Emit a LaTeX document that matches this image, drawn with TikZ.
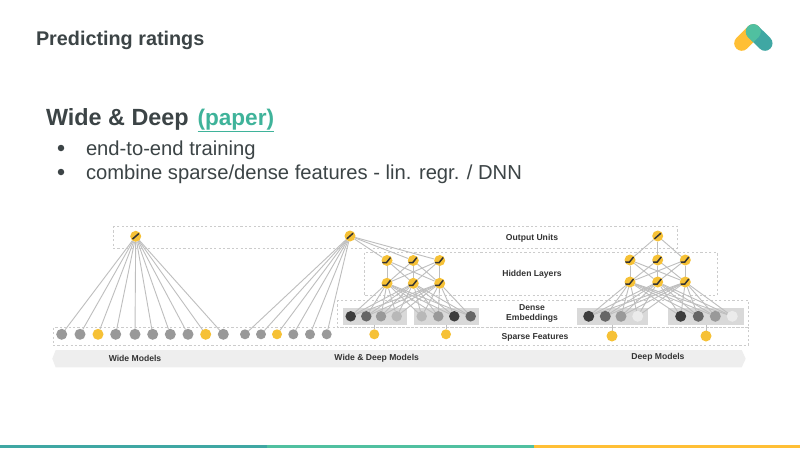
\documentclass[tikz,border=0pt]{standalone}
\usepackage{fontspec}
\setmainfont{Liberation Sans}
\usetikzlibrary{backgrounds,positioning}
\definecolor{SlideInk}{HTML}{3C4446}
\definecolor{SlideTeal}{HTML}{3FA7A3}
\definecolor{SlideGreen}{HTML}{50C0A0}
\definecolor{SlideLink}{HTML}{3FB39A}
\definecolor{SlideYellow}{HTML}{FFBF35}
\definecolor{UnitYellow}{HTML}{F6C136}
\definecolor{LabelInk}{HTML}{333333}
\definecolor{EdgeGray}{HTML}{BEBEBE}
\definecolor{BoxGray}{HTML}{CCCCCC}
\definecolor{BandGray}{HTML}{EEEEEE}
\definecolor{EmbedGray}{HTML}{D9D9D9}
\tikzset{
  every node/.style={inner sep=0pt, outer sep=0pt, text=SlideInk},
  headline/.style={anchor=base west, font=\bfseries\fontsize{19.8}{24}\selectfont},
  subhead/.style={anchor=base west, font=\bfseries\fontsize{23.4}{28}\selectfont},
  linkhead/.style={anchor=base west, font=\bfseries\fontsize{22.6}{28}\selectfont},
  bullettext/.style={anchor=base west, font=\fontsize{20.2}{24}\selectfont},
  bulletdot/.style={circle, fill=SlideInk, minimum size=6.5pt},
  tag/.style={font=\bfseries\fontsize{8.6}{10}\selectfont, text=LabelInk, align=center},
  guide/.style={draw=BoxGray, line width=1pt, dash pattern=on 2.2pt off 2.2pt},
  band/.style={fill=BandGray},
  embedbox/.style={fill=EmbedGray},
  edge/.style={draw=EdgeGray, line width=0.9pt},
  sparse/.style={circle, fill=#1, minimum size=11pt},
  dense/.style={circle, fill=#1, minimum size=11pt},
  outunit/.style={circle, fill=UnitYellow, minimum size=11pt, path picture={
    \draw[LabelInk, line width=1.5pt, shift={(path picture bounding box.center)}]
      (-3.2,2.8) -- (3.2,-2.8);}},
  hidunit/.style={circle, fill=UnitYellow, minimum size=11pt, path picture={
    \draw[LabelInk, line width=1.5pt, shift={(path picture bounding box.center)}]
      (-5,2) -- (-0.5,2) -- (3.5,-3);}},
}
\begin{document}
\begin{tikzpicture}[x=1pt,y=-1pt]
  \useasboundingbox (0,0) rectangle (800,448);
  % Footer stripe
  \fill[SlideTeal] (0,445) rectangle (267,448);
  \fill[SlideGreen] (267,445) rectangle (534,448);
  \fill[SlideYellow] (534,445) rectangle (800,448);
  % Logo
  \draw[SlideYellow, line width=15pt, line cap=round] (741.7,43.3) -- (753.3,31.7);
  \draw[SlideTeal, line width=15pt, line cap=round] (753.3,31.7) -- (765,43.3);
  \fill[SlideGreen] (753.3,31.7) circle (7.5pt);
  \fill[SlideGreen] (748,37) -- (753.3,42.3) -- (758.6,37) -- (753.3,31.7) -- cycle;
  % Slide text
  \node[headline] (title) at (36,45) {Predicting ratings};
  \node[subhead] (head) at (46,125) {Wide \& Deep};
  \node[linkhead, text=SlideLink] (paper) at (197.5,125) {\underline{(paper)}};
  \node[bulletdot] (dotA) at (61,148) {};
  \node[bulletdot] (dotB) at (61,172) {};
  \node[bullettext] (lineA) at (86,155) {end-to-end training};
  \node[bullettext] (lineB) at (86,179) {combine sparse/dense features - lin. regr. / DNN};
  % Output units
  \node[outunit] (wo) at (135.7,236.3) {};
  \node[outunit] (mo) at (350,236) {};
  \node[outunit] (do) at (657.7,236) {};
  % Hidden layers
  \foreach \n/\x in {1/387, 2/413.3, 3/439.7} {
    \node[hidunit] (mu\n) at (\x,260.5) {};
    \node[hidunit] (ml\n) at (\x,283.3) {};
  }
  \foreach \n/\x in {1/630, 2/657.7, 3/685.3} {
    \node[hidunit] (du\n) at (\x,260) {};
    \node[hidunit] (dl\n) at (\x,282) {};
  }
  % Dense embeddings
  \foreach \n/\x/\c in {1/350.7/76, 2/366.3/60, 3/381/40, 4/396.7/28, 5/421.7/28, 6/438.3/40, 7/454.3/76, 8/470.7/60}
    \node[dense=black!\c, minimum size=10.5pt] (me\n) at (\x,316.3) {};
  \foreach \n/\x/\c in {1/588.7/76, 2/605.3/60, 3/621/40, 4/637.7/8, 5/680.7/76, 6/698.3/60, 7/715.3/40, 8/732.3/8}
    \node[dense=black!\c] (de\n) at (\x,316.3) {};
  % Sparse features
  \foreach \n/\x/\c in {1/61.7/black!40, 2/80/black!40, 3/98/UnitYellow, 4/115.7/black!40, 5/135/black!40, 6/152.7/black!40, 7/170.3/black!40, 8/188/black!40, 9/205.7/UnitYellow, 10/223.3/black!40}
    \node[sparse=\c] (ws\n) at (\x,334.3) {};
  \foreach \n/\x/\c in {1/245/black!40, 2/261/black!40, 3/277/UnitYellow, 4/293.3/black!40, 5/310/black!40, 6/326.7/black!40}
    \node[sparse=\c, minimum size=10pt] (ms\n) at (\x,334.3) {};
  \node[sparse=UnitYellow, minimum size=10pt] (mf1) at (374.3,334.3) {};
  \node[sparse=UnitYellow, minimum size=10pt] (mf2) at (446,334.3) {};
  \node[sparse=UnitYellow] (df1) at (612,336) {};
  \node[sparse=UnitYellow] (df2) at (706,336) {};
  % Row and model labels
  \node[tag] (outlabel) at (532,238) {Output Units};
  \node[tag] (hidlabel) at (532,274) {Hidden Layers};
  \node[tag] (denlabel) at (532,313) {Dense\\Embeddings};
  \node[tag] (sparlabel) at (535,337) {Sparse Features};
  \node[tag] (widelabel) at (135,358) {Wide Models};
  \node[tag] (bothlabel) at (376.7,358) {Wide \& Deep Models};
  \node[tag] (deeplabel) at (658,357.5) {Deep Models};
  \begin{scope}[on background layer]
    \fill[white] (0,0) rectangle (800,448);
    % Band and grouping boxes
    \fill[band] (52.3,358.7) -- (55.7,350) -- (741.7,350) -- (745.7,358.7) -- (741.7,367.3) -- (55.7,367.3) -- cycle;
    \draw[guide] (113.3,226) rectangle (677,248.3);
    \draw[guide] (364,252.7) rectangle (717.3,295.3);
    \draw[guide] (337.3,300) rectangle (748,327.7);
    \draw[guide] (53.3,327.7) rectangle (748,345.7);
    \fill[embedbox] (342.7,308.3) rectangle (406.7,325);
    \fill[embedbox] (414,308.3) rectangle (479,325);
    \fill[embedbox] (576.7,307.7) rectangle (648,325);
    \fill[embedbox] (667.7,307.7) rectangle (744,325);
    % Connectors
    \foreach \n in {1,...,10}
      \draw[edge] (wo) -- (ws\n);
    \foreach \n in {1,...,6}
      \draw[edge] (mo) -- (ms\n);
    \foreach \a in {1,2,3} {
      \draw[edge] (mo) -- (mu\a);
      \draw[edge] (do) -- (du\a);
      \foreach \b in {1,2,3} {
        \draw[edge] (mu\a) -- (ml\b);
        \draw[edge] (du\a) -- (dl\b);
      }
      \foreach \b in {1,...,8} {
        \draw[edge] (ml\a) -- (me\b);
        \draw[edge] (dl\a) -- (de\b);
      }
    }
    \draw[edge] (mf1) -- (374.3,325);
    \draw[edge] (mf2) -- (446,325);
    \draw[edge] (df1) -- (612,325);
    \draw[edge] (df2) -- (706,325);
  \end{scope}
\end{tikzpicture}
\end{document}
